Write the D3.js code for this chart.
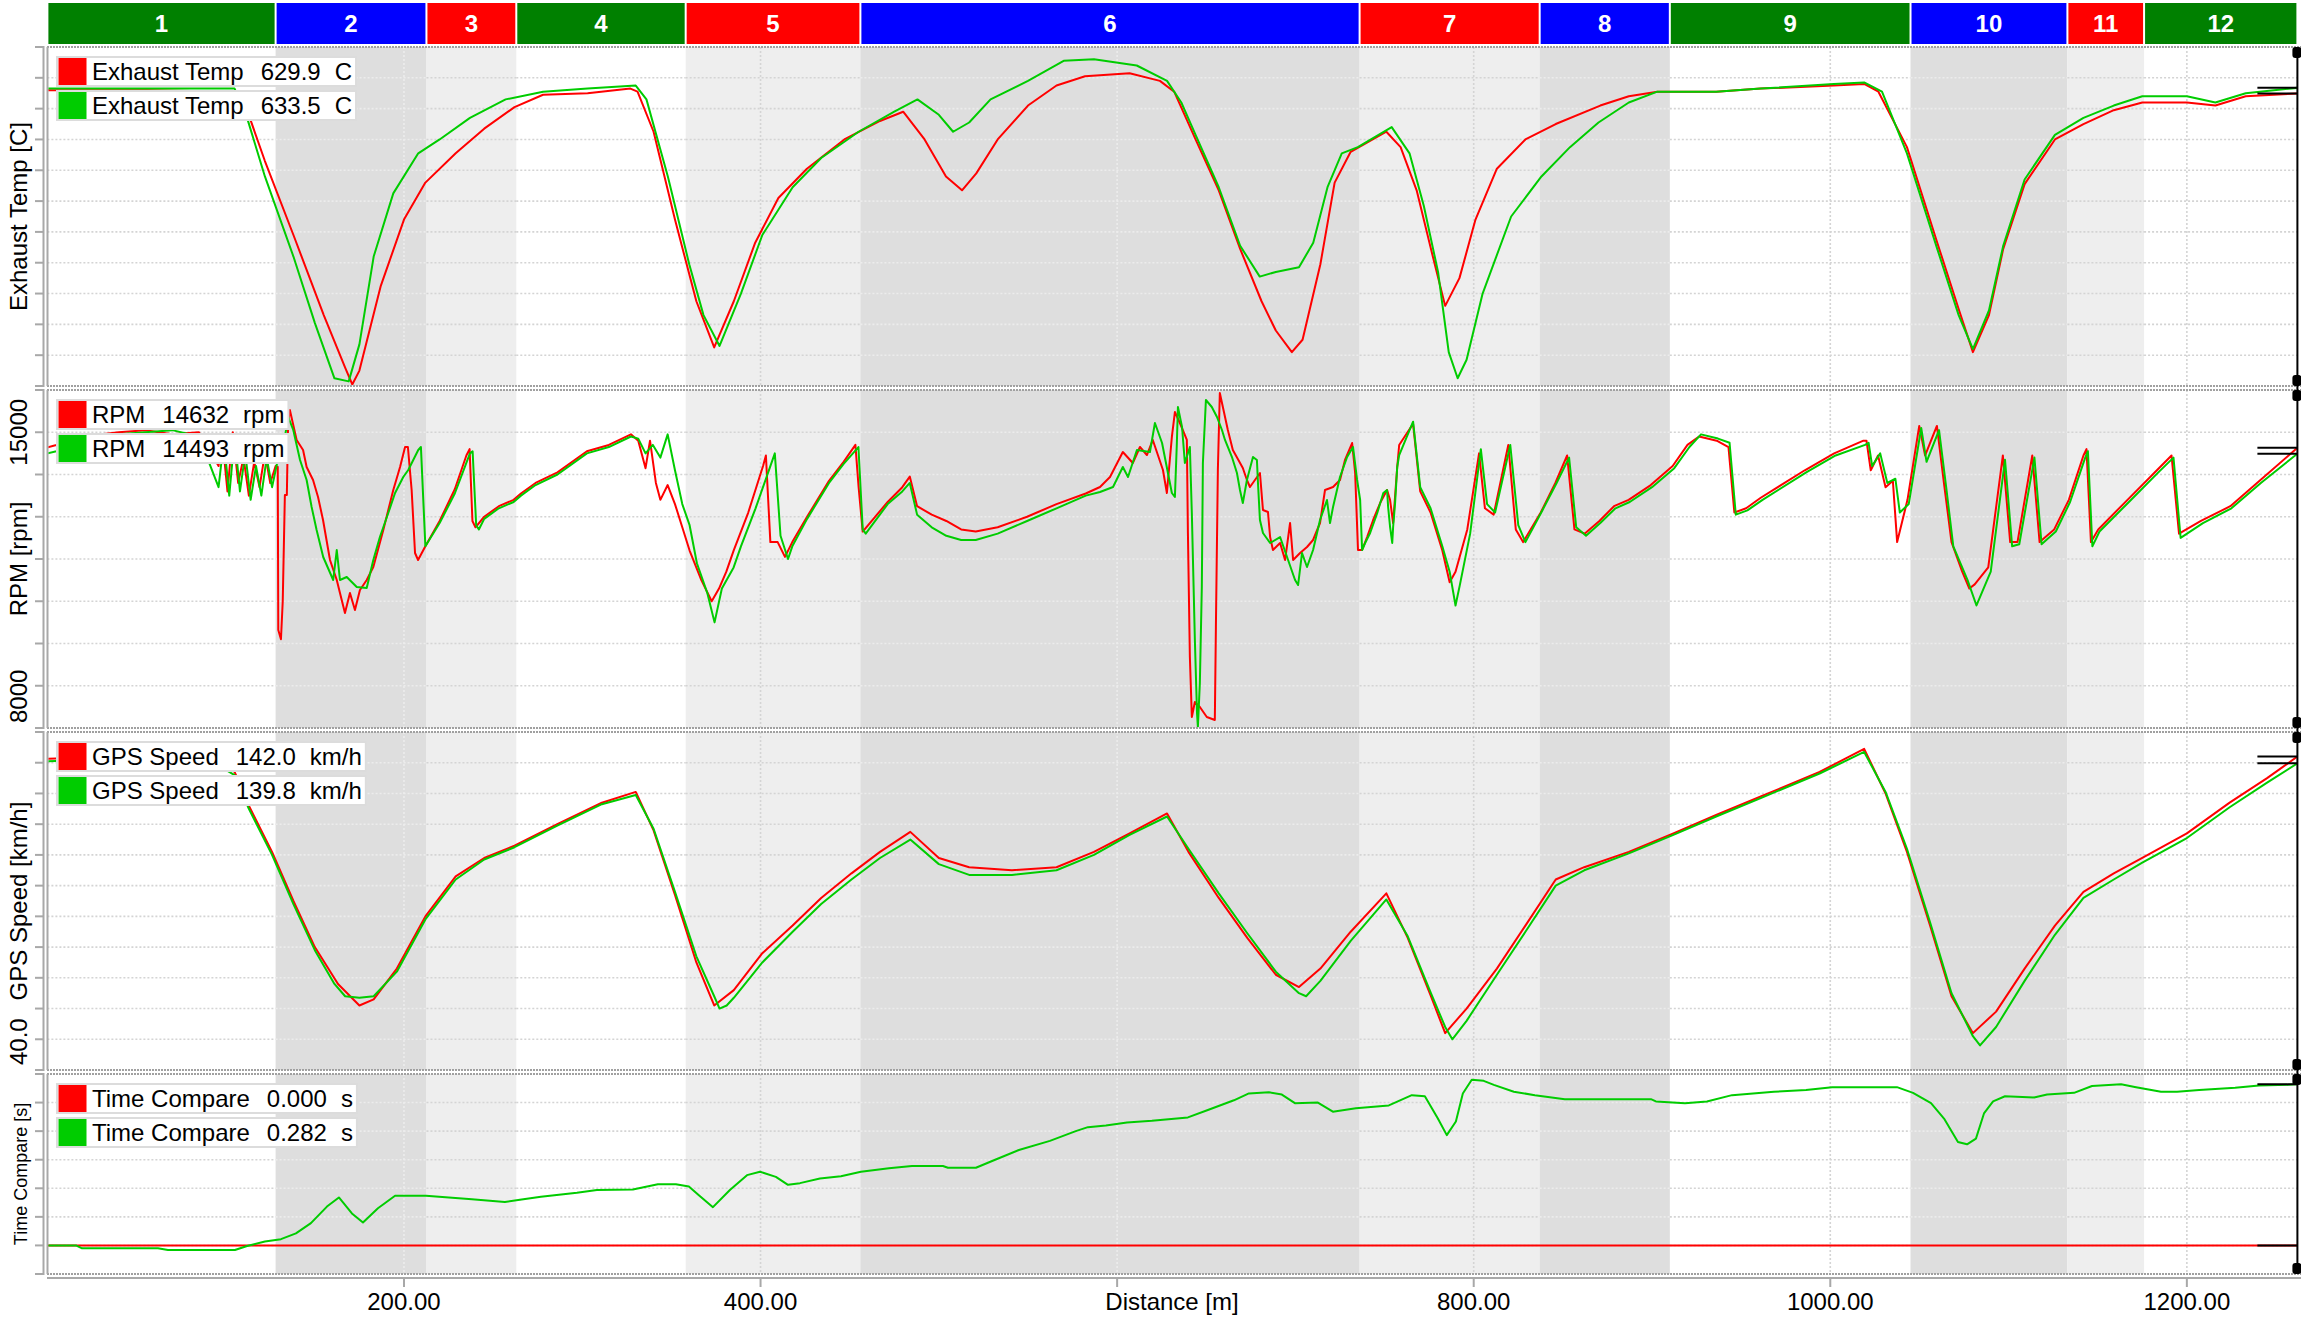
<!DOCTYPE html>
<html><head><meta charset="utf-8">
<script src="https://cdn.jsdelivr.net/npm/d3@7"></script>
<style>
html,body{margin:0;padding:0;background:#fff;}
svg{display:block;font-family:"Liberation Sans",Arial,sans-serif;}
</style></head><body>
<svg id="chart" width="2301" height="1319"></svg>
<script>
// ---------------- DATA ----------------
const segmentLabels = ["1","2","3","4","5","6","7","8","9","10","11","12"];
const segmentBounds = [0,128,212.6,263,358,456,736,837,910,1045,1133,1176,1262];
const segmentKinds  = ["G","B","R","G","R","B","R","B","G","B","R","G"];
const xTickValues = [200,400,600,800,1000,1200];

const exhLegend  = ["629.9","633.5"];
const rpmLegend  = ["14632","14493"];
const gpsLegend  = ["142.0","139.8"];
const tcLegend   = ["0.000","0.282"];

const exhRed = [[0,632],[56,632],[105,631],[112,619],[122,586],[138,538],[155,486],[167,452],[171,441],[175,450],[187,505],[200,548],[212,572],[229,591],[245,607],[262,621],[278,629],[303,630],[327,633],[331,631],[340,605],[352,548],[364,495],[374,465],[385,495],[397,533],[410,562],[426,581],[447,600],[467,612],[480,618],[492,600],[504,576],[513,567],[521,578],[533,600],[550,622],[566,635],[582,641],[607,643],[624,638],[632,631],[644,600],[657,567],[669,529],[681,495],[689,476],[698,462],[704,470],[714,519],[722,572],[731,592],[751,605],[759,595],[768,567],[776,529],[784,492],[792,510],[801,548],[813,581],[829,600],[846,610],[871,622],[887,628],[903,631],[936,631],[961,633],[1002,635],[1019,636],[1027,631],[1043,595],[1060,533],[1072,490],[1080,462],[1089,486],[1097,529],[1109,571],[1126,600],[1142,610],[1159,619],[1175,624],[1200,624],[1216,622],[1233,628],[1262,629.9]];
const exhGreen = [[0,633],[105,633],[112,614],[122,576],[138,524],[150,481],[161,445],[169,443],[175,467],[183,524],[194,565],[208,591],[220,600],[237,614],[257,626],[278,631],[303,633],[330,635],[336,626],[348,576],[360,519],[368,486],[377,466],[389,500],[401,538],[418,569],[434,588],[455,605],[475,618],[488,626],[500,616],[508,605],[517,611],[529,626],[550,638],[570,651],[587,652],[611,648],[628,638],[636,624],[644,603],[657,569],[669,531],[680,511],[689,514],[702,517],[710,533],[718,569],[726,591],[735,595],[754,608],[764,591],[772,557],[780,514],[786,462],[791,445],[796,457],[805,500],[821,550],[838,576],[854,595],[870,611],[887,624],[903,631],[936,631],[961,633],[1002,636],[1019,637],[1029,631],[1043,591],[1060,529],[1072,486],[1080,464],[1089,489],[1097,531],[1109,574],[1126,603],[1142,614],[1159,622],[1175,628],[1200,628],[1216,624],[1233,630],[1262,633.5]];

const rpmRed = [[0,14640],[5,14700],[20,14900],[40,15000],[55,15050],[70,14950],[85,15000],[96,14200],[98,14900],[101,13600],[104,15000],[107,13800],[110,14400],[113,13500],[116,14300],[119,13700],[122,14500],[125,13800],[128,14200],[129.2,14177],[129.5,10319],[131,10100],[132,11000],[133.2,13515],[134.3,13515],[135,15200],[136,15527],[139.8,14817],[143.4,14580],[145.4,14177],[149,13870],[151.8,13467],[154.6,12923],[158.5,11976],[162.3,11503],[164.1,11195],[166.9,10722],[169.7,11195],[172.5,10793],[175.3,11266],[179.1,11503],[182.8,11810],[188.4,12686],[194,13633],[197.8,14177],[200.6,14651],[202.2,14651],[204.3,13633],[206.2,12142],[207.9,11976],[212,12300],[220,12900],[228.5,13650],[235,14450],[236.8,14600],[238.4,12900],[240.1,12750],[245,13000],[253.2,13250],[261.5,13400],[265.6,13550],[273.8,13800],[286.1,14050],[302.6,14550],[314.9,14700],[327.3,14950],[331.4,14800],[335.5,14150],[338,14800],[341.3,13800],[343.8,13400],[347.9,13750],[352,13300],[356.1,12750],[360.2,12200],[366.8,11500],[372.6,11000],[376.7,11300],[380.8,11700],[384.9,12200],[393.1,13100],[401.4,14200],[403,14450],[405.5,12400],[409.6,12400],[413.7,12050],[417.8,12400],[426.1,13000],[438.4,13850],[446.6,14300],[453.2,14700],[455,13700],[457.3,12650],[471.3,13350],[479.5,13700],[483.7,13950],[487.8,13250],[496,13050],[504.2,12900],[512.5,12700],[520.7,12650],[533,12750],[549.5,13000],[566,13300],[582.4,13550],[590.4,13704],[596,13941],[603.2,14532],[608.8,14272],[612.8,14651],[616.7,14461],[620,14817],[625.7,14107],[627.9,13562],[630.7,14888],[632.4,15479],[635.2,15219],[639.1,14817],[639.7,12615],[640.8,9680],[641.9,8260],[643.6,8615],[646.4,8497],[650.3,8260],[654.8,8189],[655.4,10390],[656.5,14107],[657.6,15929],[659.3,15598],[662.1,15053],[664.9,14580],[670.5,14154],[672.8,13870],[674.5,13704],[677.3,13870],[680.1,14035],[681.8,13160],[684.6,13112],[685.8,12520],[687.4,12213],[691.4,12379],[694.2,11976],[697,12852],[698.7,11976],[702.6,12142],[706.5,12284],[709.9,12450],[713.8,12852],[716.6,13633],[721.1,13704],[725,13870],[727.8,14343],[731.8,14745],[733.5,14035],[735.1,12213],[737.4,12213],[740.2,12520],[743.6,12923],[747.5,13325],[751.4,13633],[753.1,13396],[754.8,12852],[757.1,14177],[758.2,14698],[766,15200],[770,13600],[775.8,13100],[782.4,12200],[786.5,11450],[789.8,11700],[796.4,12700],[803,14500],[806.3,13200],[811.2,13050],[819.4,14700],[823.6,12700],[827.7,12400],[837.6,13100],[845.8,13800],[852.4,14450],[856.5,12700],[862.2,12600],[870.5,12900],[878.7,13250],[886.9,13400],[899.3,13750],[911.6,14200],[919.9,14700],[926.4,14900],[936.3,14800],[942.9,14650],[946.2,13100],[952.8,13200],[961,13450],[985.7,14100],[1002.2,14500],[1018.6,14800],[1020.3,14800],[1022.7,14100],[1026.8,14450],[1031,13700],[1035.1,13850],[1037.5,12400],[1043.3,13400],[1049.9,15150],[1053.2,14450],[1059.8,15150],[1063.9,13750],[1068,12400],[1074,11700],[1078,11300],[1081,11400],[1088.6,11800],[1096.8,14450],[1100.9,12400],[1105,12400],[1113.3,14450],[1117.4,12400],[1125.6,12700],[1133.8,13400],[1142,14450],[1143.7,14600],[1146.2,12400],[1150.3,12700],[1166.7,13400],[1183.2,14100],[1191.4,14450],[1195.6,12600],[1207.9,12900],[1224.4,13250],[1240.8,13850],[1262,14632]];
const rpmGreen = [[0,14500],[5,14550],[20,14850],[40,14950],[55,15000],[70,15050],[85,14900],[96,13700],[99,14800],[102,13500],[105,14900],[108,13600],[111,14500],[114,13400],[117,14200],[120,13500],[123,14400],[126,13700],[129,14300],[132,14600],[135.1,15361],[137.9,15053],[141.7,14343],[145.4,13870],[148.2,13231],[151,12686],[154.7,12047],[160.3,11503],[162.3,12213],[164.1,11503],[167.9,11574],[173.5,11337],[179.1,11313],[182.8,11976],[186.5,12520],[191.2,13089],[195,13562],[199.6,13941],[202.4,14107],[205.2,14343],[208,14580],[209.5,14650],[212,12300],[220,12850],[228.5,13550],[237,14500],[238.5,14550],[240.5,12800],[242,12700],[245,12950],[253.2,13200],[261.5,13350],[265.6,13500],[273.8,13750],[286.1,14000],[302.6,14500],[314.9,14650],[327.3,14900],[331.4,14850],[335.5,14500],[339.6,14700],[343.8,14400],[347.9,14950],[352,14100],[356.1,13300],[360.2,12800],[364.3,11900],[370.1,11200],[374.2,10500],[378.3,11300],[384.9,11800],[389,12300],[397.2,13200],[405.5,14200],[408,14500],[411.2,12550],[415.4,12000],[417.8,12300],[426.1,12950],[438.4,13800],[446.6,14250],[454.9,14650],[457.3,12700],[459,12600],[471.3,13300],[479.5,13600],[483.7,13800],[487.8,13050],[496,12750],[504.2,12550],[512.5,12450],[520.7,12450],[533,12600],[549.5,12900],[566,13200],[582.4,13500],[590.4,13586],[597.7,13704],[603.2,14177],[606.1,13941],[611.1,14580],[618.4,14532],[621.2,15219],[625.2,14745],[628.5,14035],[630.7,13562],[632.4,13467],[633.5,14745],[634.1,15598],[636.4,15124],[638,14272],[640.8,14651],[641.9,13089],[643.6,10083],[644.8,8355],[645.3,8023],[646.4,9065],[647.5,11337],[648.1,14272],[649.8,15763],[653.1,15598],[656,15361],[658.8,15053],[660.5,14817],[664.4,14414],[667.2,14035],[668.9,13633],[670.5,13325],[672.8,13870],[676.2,14414],[678.4,14343],[679,13799],[680.1,12923],[681.8,12615],[685.8,12379],[691.4,12520],[695.3,12047],[699.8,11503],[701.5,11384],[703.7,12142],[706.5,11810],[709.9,12213],[713.8,12923],[717.7,13396],[719.4,12852],[721.1,13231],[725,13941],[729,14414],[732.3,14651],[734.6,13870],[736.3,13396],[737.4,12213],[739.1,12379],[741.9,12615],[745.9,13089],[749.3,13562],[751.4,13633],[752,13231],[753.1,12757],[754.3,12379],[754.8,12757],[755.9,13325],[757.1,14177],[758.2,14461],[766,15250],[770,13700],[775.8,13200],[782.4,12300],[786.5,11700],[789.8,10900],[792.3,11400],[798,12600],[804,14600],[807.5,13300],[812,13100],[820.5,14700],[825,12800],[829,12400],[838.5,13150],[846.5,13800],[853.5,14400],[857.5,12750],[863,12550],[871,12850],[879.5,13200],[887.5,13350],[900,13700],[912.5,14150],[921,14650],[927.5,14950],[937,14850],[943.5,14750],[947,13050],[953.5,13150],[962,13400],[986.5,14050],[1003,14450],[1019.5,14700],[1021.5,14750],[1023.5,14200],[1028,14500],[1032,13800],[1036.5,13900],[1039,13100],[1044,13300],[1051,15100],[1054,14300],[1061,15050],[1065,13700],[1069,12300],[1077,11500],[1082,10900],[1090,11700],[1098,14350],[1102,12300],[1106,12350],[1114.5,14400],[1118.5,12350],[1126.5,12650],[1134.5,13350],[1143,14400],[1144.5,14550],[1147,12300],[1151,12650],[1167.5,13350],[1184,14050],[1192.5,14400],[1196.5,12500],[1209,12850],[1225,13200],[1241.5,13800],[1262,14493]];

const gpsRed = [[0,141.3],[56,142.3],[89,142],[105,137],[113,126],[126,111],[138,95],[150,80],[163,68],[175,61],[183,63],[196,73],[212,90],[229,103],[245,109],[262,113],[286,120],[311,127],[330,130.5],[340,118],[352,97],[364,75],[374,61],[385,66],[401,78],[418,87],[434,96],[451,104],[467,111],[484,117.5],[500,109],[517,106],[541,105],[566,106],[587,111],[607,117],[628,123.5],[640,111],[657,96],[673,83],[689,71],[702,67],[714,73],[731,85],[751,97.5],[763,83],[776,64],[784,52],[796,60],[813,73],[829,87],[846,102],[862,106],[887,111],[912,117],[936,123],[961,129],[994,137],[1019,144.5],[1031,130],[1043,111],[1056,87],[1068,64],[1080,52],[1093,59],[1109,73],[1126,87],[1142,98],[1159,104],[1175,109],[1200,117],[1224,127],[1245,135],[1262,142]];
const gpsGreen = [[0,140.5],[56,141.5],[89,141.5],[105,136],[113,125],[126,110],[138,94],[150,79],[161,68],[167,64],[175,63.5],[183,64],[196,72],[212,89],[229,102],[245,108.5],[262,112.5],[286,119.5],[311,126.5],[330,129.5],[340,118.5],[352,98],[364,77],[374,64],[377,60],[381,61],[385,63.5],[401,75],[418,85],[434,94],[451,102],[467,109],[484,115],[500,107],[517,103.5],[541,103.5],[566,105],[587,110],[607,116.5],[628,122.5],[640,112],[657,97.5],[673,84.5],[689,72],[702,65],[706,64],[714,69],[731,82],[751,95.5],[763,83.5],[776,65],[784,54],[788,50],[796,56],[813,71],[829,85],[846,100],[862,105],[887,110.5],[912,116.5],[936,122.5],[961,128.5],[994,136.5],[1019,143.5],[1031,130.5],[1043,112],[1056,88],[1068,65],[1080,51],[1084,48],[1093,54],[1109,69],[1126,84],[1142,96],[1159,102],[1175,107.5],[1200,115.5],[1224,125.5],[1245,133.5],[1262,139.8]];

const tcRed = [[0,0],[631,0],[1262,0]];
const tcGreen = [[0,0],[16,0],[19.4,-0.005],[62,-0.005],[67.6,-0.008],[105.2,-0.008],[112,-0.001],[122,0.007],[131,0.011],[139.4,0.021],[147.8,0.039],[156.8,0.068],[163.5,0.084],[170.8,0.056],[177,0.040],[185.4,0.065],[195,0.087],[212.3,0.087],[238.1,0.081],[256.6,0.076],[265,0.080],[276.8,0.085],[297,0.092],[308.2,0.097],[328.4,0.098],[342.4,0.107],[352.5,0.107],[359.8,0.103],[365.4,0.088],[373.3,0.067],[382.8,0.097],[392.4,0.123],[399.7,0.129],[408.6,0.120],[415.4,0.106],[422.1,0.109],[433.3,0.117],[445.1,0.121],[456.3,0.129],[472,0.135],[484.9,0.139],[502.3,0.139],[505.1,0.136],[520.8,0.136],[530.9,0.149],[544.9,0.167],[562.3,0.183],[576.8,0.200],[583.6,0.207],[593.7,0.210],[605.5,0.215],[619.5,0.218],[639.7,0.224],[650.9,0.237],[665.5,0.254],[673.9,0.266],[685.1,0.268],[692.4,0.264],[699.7,0.249],[712.6,0.250],[721,0.234],[733.9,0.240],[752.4,0.245],[765.3,0.263],[772.6,0.261],[779.9,0.222],[784.9,0.193],[790,0.217],[793.9,0.266],[798.9,0.290],[805.6,0.288],[811.3,0.281],[822.5,0.269],[834.3,0.263],[851.1,0.256],[899.4,0.256],[902.2,0.252],[918.5,0.249],[930.8,0.252],[944.9,0.263],[968.4,0.269],[986.4,0.272],[1001,0.277],[1037.4,0.277],[1046.4,0.267],[1056.5,0.249],[1063.8,0.222],[1071.6,0.181],[1076.7,0.177],[1081.7,0.187],[1086.2,0.231],[1091.3,0.252],[1098,0.261],[1114.3,0.259],[1121.6,0.264],[1136.7,0.267],[1146.8,0.279],[1163.1,0.282],[1171.5,0.277],[1185.5,0.269],[1194.5,0.269],[1206.9,0.272],[1227.1,0.276],[1240.5,0.280],[1256.8,0.281],[1262,0.282]];

// ---------------- LAYOUT ----------------
const svg = d3.select("#chart");
const RED = "#ff0000", GREEN = "#00cc00";
const headerColor = {G:"#008000", B:"#0000ff", R:"#ff0000"};
const bandColor = {G:null, B:"#dedede", R:"#eeeeee"};
const gridColor = {G:"#d4d4d4", B:"#ececec", R:"#d4d4d4"};
const AXIS = "#a8a8a8";

const x = d3.scaleLinear().domain([0, 1262]).range([47.4, 2297.4]);
const plotL = 47, plotR = 2297;

const panels = [
  {top:47,  bottom:386,  domain:[440,660],    step:20,   n:11, title:"Exhaust Temp [C]", tSize:24, name:"Exhaust Temp", unit:"C",    vals:exhLegend, red:exhRed, green:exhGreen, labels:[], fmt:d3.format("d")},
  {top:390, bottom:728,  domain:[8000,16000], step:1000, n:8,  title:"RPM [rpm]",        tSize:24, name:"RPM",          unit:"rpm",  vals:rpmLegend, red:rpmRed, green:rpmGreen, labels:[15000,8000], fmt:d3.format("d")},
  {top:732, bottom:1070, domain:[40,150],     step:10,   n:11, title:"GPS Speed [km/h]", tSize:24, name:"GPS Speed",    unit:"km/h", vals:gpsLegend, red:gpsRed, green:gpsGreen, labels:[40], fmt:d3.format(".1f")},
  {top:1074,bottom:1274, domain:[-0.05,0.30], step:0.05, n:7,  title:"Time Compare [s]", tSize:18, name:"Time Compare", unit:"s",    vals:tcLegend,  red:tcRed,  green:tcGreen,  labels:[], fmt:d3.format(".2f")}
];

const segs = segmentLabels.map((l,i)=>({label:l, kind:segmentKinds[i], d0:segmentBounds[i], d1:segmentBounds[i+1]}));

// header
const hdr = svg.append("g");
hdr.selectAll("rect").data(segs).join("rect")
  .attr("x", d=>x(d.d0)+1).attr("y",3)
  .attr("width", d=>x(d.d1)-x(d.d0)-2).attr("height",41)
  .attr("fill", d=>headerColor[d.kind]);
hdr.selectAll("text").data(segs).join("text")
  .attr("x", d=>(x(d.d0)+x(d.d1))/2).attr("y",32)
  .attr("text-anchor","middle").attr("font-size",24).attr("font-weight","bold")
  .attr("fill","#fff").text(d=>d.label);

const defs = svg.append("defs");

panels.forEach((p,pi)=>{
  const y = d3.scaleLinear().domain(p.domain).range([p.bottom, p.top]);
  const g = svg.append("g");
  // bands
  g.selectAll("rect.band").data(segs.filter(s=>bandColor[s.kind])).join("rect")
    .attr("x", d=>x(d.d0)).attr("y", p.top)
    .attr("width", d=>x(d.d1)-x(d.d0)).attr("height", p.bottom-p.top)
    .attr("fill", d=>bandColor[d.kind]);
  const tickVals = d3.range(p.n+1).map(k=>p.domain[0]+k*p.step);
  const inner = tickVals.slice(1,-1);
  // horizontal grid per band
  inner.forEach(v=>{
    g.selectAll(null).data(segs).join("line")
      .attr("x1", d=>x(d.d0)).attr("x2", d=>x(d.d1))
      .attr("y1", y(v)).attr("y2", y(v))
      .attr("stroke", d=>gridColor[d.kind]).attr("stroke-width",1.6)
      .attr("stroke-dasharray","2,2");
  });
  // vertical grid
  g.selectAll(null).data(xTickValues).join("line")
    .attr("x1", d=>x(d)).attr("x2", d=>x(d))
    .attr("y1", p.top).attr("y2", p.bottom)
    .attr("stroke", d=>{const s=segs.find(s=>d>=s.d0&&d<s.d1); return gridColor[s?s.kind:"G"];})
    .attr("stroke-width",1.6).attr("stroke-dasharray","2,2");
  // borders top/bottom dotted
  [p.top, p.bottom].forEach(yy=>{
    g.append("line").attr("x1",plotL).attr("x2",2301).attr("y1",yy).attr("y2",yy)
      .attr("stroke","#a0a0a0").attr("stroke-width",2).attr("stroke-dasharray","2,1");
  });
  // left axis
  g.append("line").attr("x1",43.5).attr("x2",43.5).attr("y1",p.top-1).attr("y2",p.bottom+1)
    .attr("stroke",AXIS).attr("stroke-width",2);
  g.append("line").attr("x1",47.5).attr("x2",47.5).attr("y1",p.top).attr("y2",p.bottom)
    .attr("stroke",AXIS).attr("stroke-width",2);
  g.selectAll(null).data(tickVals).join("line")
    .attr("x1",35).attr("x2",44).attr("y1",d=>y(d)).attr("y2",d=>y(d))
    .attr("stroke",AXIS).attr("stroke-width",2);
  // axis title
  g.append("text").attr("transform",`translate(27,${(p.top+p.bottom)/2}) rotate(-90)`)
    .attr("text-anchor","middle").attr("font-size",p.tSize).attr("fill","#000").text(p.title);
  // tick labels
  p.labels.forEach(v=>{
    const atBottom = Math.abs(v-p.domain[0])<1e-9;
    const yy = atBottom ? p.bottom-5 : y(v);
    g.append("text").attr("transform",`translate(27,${yy}) rotate(-90)`)
      .attr("text-anchor", atBottom?"start":"middle").attr("font-size",24).attr("fill","#000")
      .text(p.fmt(v));
  });
  // clip
  const cid = "clip"+pi;
  defs.append("clipPath").attr("id",cid).append("rect")
    .attr("x",48.5).attr("y",p.top+1).attr("width",plotR-48.5).attr("height",p.bottom-p.top-2);
  const line = d3.line().x(d=>x(d[0])).y(d=>y(d[1]));
  const lg = g.append("g").attr("clip-path",`url(#${cid})`);
  lg.append("path").attr("d",line(p.red)).attr("fill","none").attr("stroke",RED).attr("stroke-width",2).attr("stroke-linejoin","round");
  lg.append("path").attr("d",line(p.green)).attr("fill","none").attr("stroke",GREEN).attr("stroke-width",2).attr("stroke-linejoin","round");
  // cursor value markers
  [p.red, p.green].forEach(s=>{
    const last = s[s.length-1];
    g.append("line").attr("x1",x(last[0])-40).attr("x2",x(last[0])).attr("y1",y(last[1])).attr("y2",y(last[1]))
      .attr("stroke","#000").attr("stroke-width",2);
  });
  // cursor handles
  const cx = x(1262);
  g.append("rect").attr("x",cx-5).attr("y",p.top).attr("width",9).attr("height",11).attr("rx",3).attr("fill","#000");
  g.append("rect").attr("x",cx-5).attr("y",p.bottom-11).attr("width",9).attr("height",11).attr("rx",3).attr("fill","#000");
  // legend
  const leg = g.append("g");
  [0,1].forEach(i=>{
    const rowTop = p.top + 10 + i*34;
    const row = leg.append("g");
    const box = row.append("rect").attr("x",57).attr("y",rowTop).attr("height",29)
      .attr("fill","#fff").attr("stroke","#dcdcdc").attr("stroke-width",2);
    row.append("rect").attr("x",58.5).attr("y",rowTop+1).attr("width",28).attr("height",27)
      .attr("fill", i===0?RED:GREEN);
    const t1 = row.append("text").attr("x",92).attr("y",rowTop+23).attr("font-size",24).attr("fill","#000").text(p.name);
    const vx = 92 + t1.node().getComputedTextLength() + 17;
    const t2 = row.append("text").attr("x",vx).attr("y",rowTop+23).attr("font-size",24).attr("fill","#000").text(p.vals[i]);
    const ux = vx + t2.node().getComputedTextLength() + 14;
    const t3 = row.append("text").attr("x",ux).attr("y",rowTop+23).attr("font-size",24).attr("fill","#000").text(p.unit);
    box.attr("width", ux + t3.node().getComputedTextLength() + 4 - 57);
  });
});

// cursor line
svg.append("line").attr("x1",x(1262)).attr("x2",x(1262)).attr("y1",47).attr("y2",1274)
  .attr("stroke","#000").attr("stroke-width",2);

// bottom x axis
const xa = svg.append("g");
xa.append("line").attr("x1",plotL).attr("x2",2301).attr("y1",1278).attr("y2",1278).attr("stroke",AXIS).attr("stroke-width",2);
xa.selectAll("line.t").data(xTickValues).join("line").attr("class","t")
  .attr("x1",d=>x(d)).attr("x2",d=>x(d)).attr("y1",1278).attr("y2",1287)
  .attr("stroke",AXIS).attr("stroke-width",2);
xa.selectAll("text.t").data(xTickValues.filter(v=>v!==600)).join("text").attr("class","t")
  .attr("x",d=>x(d)).attr("y",1310).attr("text-anchor","middle").attr("font-size",24).attr("fill","#000")
  .text(d=>d3.format(".2f")(d));
xa.append("text").attr("x",(plotL+plotR)/2).attr("y",1310).attr("text-anchor","middle")
  .attr("font-size",24).attr("fill","#000").text("Distance [m]");
</script>
</body></html>
